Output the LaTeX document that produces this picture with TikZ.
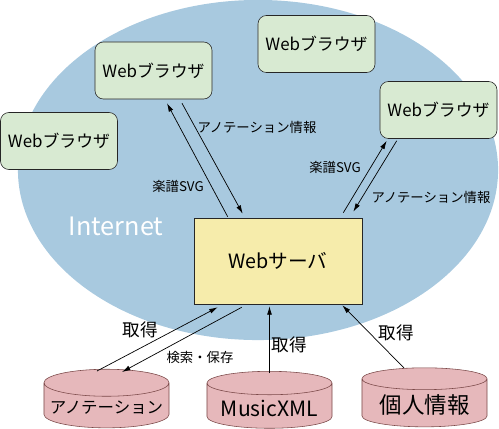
\documentclass[tikz,border=0pt]{standalone}
\usepackage{fontspec}
\setmainfont{Noto Sans CJK JP}
\usetikzlibrary{shapes.geometric,arrows.meta,calc}

\definecolor{cielo}{HTML}{A8C9DF}
\definecolor{menta}{HTML}{D8EAD2}
\definecolor{paglia}{HTML}{F6ECAB}
\definecolor{rosa}{HTML}{E6B8BB}
\definecolor{bordo}{HTML}{7A4848}

\tikzset{
  browser/.style={draw=black!85, fill=menta, rounded corners=6pt,
    minimum width=2.925cm, minimum height=1.425cm,
    font=\fontsize{12}{14}\selectfont},
  server/.style={draw=black!85, fill=paglia,
    minimum width=4.2cm, minimum height=2.15cm,
    font=\fontsize{14}{16}\selectfont},
  archivio/.style={cylinder, shape border rotate=90, aspect=0.22,
    draw=bordo, fill=rosa, minimum width=3.125cm, minimum height=1.25cm},
  freccia/.style={-{Latex[length=6pt,width=3.5pt]}, line width=0.5pt},
  etichetta/.style={font=\fontsize{9.5}{11}\selectfont, inner sep=0pt},
  prendi/.style={font=\fontsize{12.5}{14}\selectfont, inner sep=0pt},
}

\begin{document}
\begin{tikzpicture}[x=0.025cm, y=-0.025cm]

    \useasboundingbox (0,0) rectangle (499,428);

    % Nuvola Internet
    \fill[cielo] (258,170) ellipse [x radius=6cm, y radius=4.25cm];
    \node[white, font=\fontsize{18}{20}\selectfont] (rete) at (116,226) {Internet};

    % Browser
    \node[browser] (b1) at (153.5,70.5) {Webブラウザ};
    \node[browser] (b2) at (316.5,44) {Webブラウザ};
    \node[browser] (b3) at (59,141) {Webブラウザ};
    \node[browser] (b4) at (438.5,110) {Webブラウザ};

    % Server
    \node[server] (srv) at (278,261) {Webサーバ};

    % Archivi (cilindri)
    \node[archivio, font=\fontsize{11.7}{13}\selectfont] (ann) at (106.5,408) {アノテーション};
    \node[archivio, font=\fontsize{15}{17}\selectfont] (mus) at (269.5,408) {MusicXML};
    \node[archivio, minimum height=1.35cm, font=\fontsize{16}{18}\selectfont] (per) at (424.5,405) {個人情報};

    % Frecce browser <-> server
    \draw[freccia] ($(srv.north west)+(34,-1)$) -- ($(b1.south)+(13.5,4)$);
    \draw[freccia] ($(b1.south)+(28.5,4)$) -- ($(srv.north west)+(49,-4)$);
    \draw[freccia] ($(srv.north east)+(-19,-5)$) -- ($(b4.south west)+(7,2)$);
    \draw[freccia] ($(b4.south west)+(17,2)$) -- ($(srv.north east)+(-9,-6)$);

    % Frecce archivi <-> server
    \draw[freccia] ($(ann)+(-9.5,-37)$) -- ($(srv.south west)+(24,3)$);
    \draw[freccia] ($(srv.south west)+(48,3)$) -- ($(ann)+(15.5,-36)$);
    \draw[freccia] ($(mus)+(0,-35)$) -- ($(mus |- srv.south)+(0,2)$);
    \draw[freccia] ($(per)+(-20.5,-37)$) -- ($(srv.south east)+(-20,1)$);

    % Etichette
    \node[etichetta] (e1) at (257,127) {アノテーション情報};
    \node[etichetta] (e2) at (178,186) {楽譜SVG};
    \node[etichetta] (e3) at (335,167) {楽譜SVG};
    \node[etichetta] (e4) at (431,197) {アノテーション情報};
    \node[prendi] (p1) at (140,330) {取得};
    \node[etichetta] (e5) at (200,357) {検索・保存};
    \node[prendi] (p2) at (289,345) {取得};
    \node[prendi] (p3) at (396,333) {取得};

\end{tikzpicture}
\end{document}
